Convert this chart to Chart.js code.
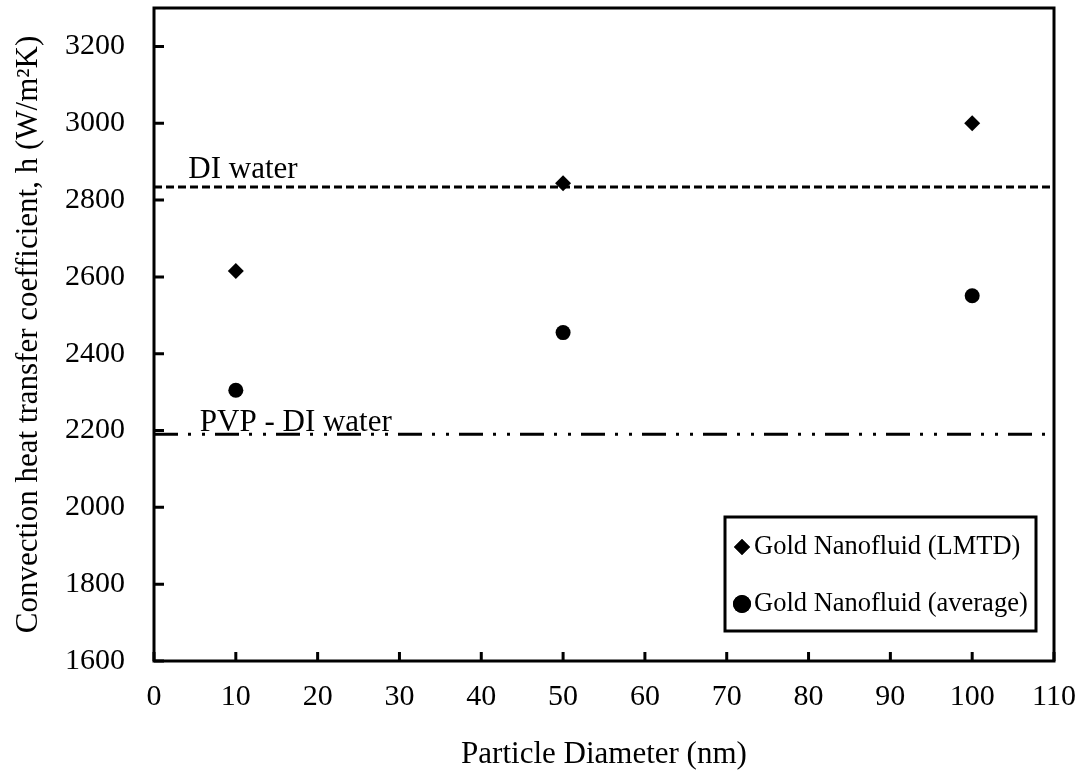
<!DOCTYPE html>
<html>
<head>
<meta charset="utf-8">
<script src="https://cdn.jsdelivr.net/npm/chart.js@4.4.0/dist/chart.umd.min.js"></script>
<style>
  body { margin: 0; background: #fff; }
  #wrap { width: 1088px; height: 776px; }
</style>
</head>
<body>
<div id="wrap"><canvas id="heatChart" width="1088" height="776"></canvas></div>
<script>
// particle diameters (nm)
var diameters = [10, 50, 100];
// convection heat transfer coefficient h (W/m2K)
var hLmtd = [2615, 2844, 3000];
var hAverage = [2305, 2455, 2551];
// reference fluids (horizontal lines)
var diWater = 2834;
var pvpDiWater = 2190;
var lineSpan = [0, 110];

var serif = '"Liberation Serif", "Times New Roman", serif';

function points(xs, ys) {
    return xs.map(function (x, i) { return { x: x, y: ys[i] }; });
}

// frame, inward ticks, line labels and in-plot legend
var decorPlugin = {
    id: 'decor',
    afterDraw: function (chart) {
        var ctx = chart.ctx;
        var a = chart.chartArea;
        var xs = chart.scales.x, ys = chart.scales.y;
        ctx.save();
        ctx.strokeStyle = '#000';
        ctx.fillStyle = '#000';
        ctx.lineWidth = 3;

        // inward ticks
        ctx.beginPath();
        ys.ticks.forEach(function (t) {
            var py = ys.getPixelForValue(t.value);
            ctx.moveTo(a.left, py);
            ctx.lineTo(a.left + 10, py);
        });
        xs.ticks.forEach(function (t) {
            var px = xs.getPixelForValue(t.value);
            ctx.moveTo(px, a.bottom);
            ctx.lineTo(px, a.bottom - 9);
        });
        ctx.stroke();

        // frame
        ctx.strokeRect(a.left, a.top, a.right - a.left, a.bottom - a.top);

        // line labels
        ctx.font = '31px ' + serif;
        ctx.textAlign = 'left';
        ctx.textBaseline = 'alphabetic';
        ctx.fillText('DI water', xs.getPixelForValue(4.2), ys.getPixelForValue(diWater) - 9);
        ctx.fillText('PVP - DI water', xs.getPixelForValue(5.6), ys.getPixelForValue(pvpDiWater) - 3);

        // legend box
        var bx = a.right - 329, by = a.bottom - 144, bw = 311, bh = 114;
        ctx.strokeRect(bx, by, bw, bh);
        var items = chart.data.datasets.filter(function (d) { return d.inLegend; });
        ctx.font = '26.5px ' + serif;
        ctx.textBaseline = 'middle';
        items.forEach(function (d, i) {
            var cy = by + 30 + i * 57;
            Chart.helpers.drawPoint(ctx, {
                pointStyle: d.pointStyle, radius: d.pointStyle === 'circle' ? 9 : 8, rotation: 0, borderWidth: 0
            }, bx + 17, cy);
            ctx.fill();
            ctx.fillText(d.label, bx + 29, cy);
        });
        ctx.restore();
    }
};

var tickFont = { family: serif, size: 30 };
var titleFont = { family: serif, size: 31 };

new Chart(document.getElementById('heatChart').getContext('2d'), {
    type: 'scatter',
    data: {
        datasets: [{
            label: 'Gold Nanofluid (LMTD)',
            inLegend: true,
            data: points(diameters, hLmtd),
            pointStyle: 'rectRot',
            pointRadius: 8,
            backgroundColor: '#000',
            borderColor: '#000',
            borderWidth: 0
        }, {
            label: 'Gold Nanofluid (average)',
            inLegend: true,
            data: points(diameters, hAverage),
            pointStyle: 'circle',
            pointRadius: 7.5,
            backgroundColor: '#000',
            borderColor: '#000',
            borderWidth: 0
        }, {
            label: 'DI water',
            data: points(lineSpan, [diWater, diWater]),
            showLine: true,
            pointRadius: 0,
            borderColor: '#000',
            borderWidth: 3,
            borderDash: [8, 4]
        }, {
            label: 'PVP - DI water',
            data: points(lineSpan, [pvpDiWater, pvpDiWater]),
            showLine: true,
            pointRadius: 0,
            borderColor: '#000',
            borderWidth: 3,
            borderDash: [24, 10, 3, 11, 3, 10]
        }]
    },
    options: {
        responsive: false,
        animation: false,
        layout: { padding: { top: 8, right: 34, left: 0, bottom: 0 } },
        plugins: { legend: { display: false }, tooltip: { enabled: false } },
        scales: {
            x: {
                type: 'linear',
                min: 0,
                max: 110,
                grid: { display: false, drawTicks: false },
                border: { display: false },
                ticks: {
                    stepSize: 10, padding: 18, color: '#000', font: tickFont,
                    callback: function (v) { return String(v); }
                },
                title: {
                    display: true,
                    text: 'Particle Diameter (nm)',
                    color: '#000',
                    font: titleFont,
                    padding: { top: 0, bottom: 3 }
                },
                afterFit: function (scale) {
                    scale.height = 115;
                    scale.paddingLeft = 0;
                    scale.paddingRight = 0;
                }
            },
            y: {
                min: 1600,
                max: 3300,
                grid: { display: false, drawTicks: false },
                border: { display: false },
                ticks: {
                    stepSize: 200, includeBounds: false, padding: 29, color: '#000', font: tickFont,
                    callback: function (v) { return String(v); }
                },
                title: {
                    display: true,
                    text: 'Convection heat transfer coefficient, h (W/m\u00B2K)',
                    color: '#000',
                    font: titleFont,
                    padding: { top: 10, bottom: 0 }
                },
                afterFit: function (scale) {
                    scale.width = 154;
                    scale.paddingTop = 0;
                    scale.paddingBottom = 0;
                }
            }
        }
    },
    plugins: [decorPlugin]
});
</script>
</body>
</html>
